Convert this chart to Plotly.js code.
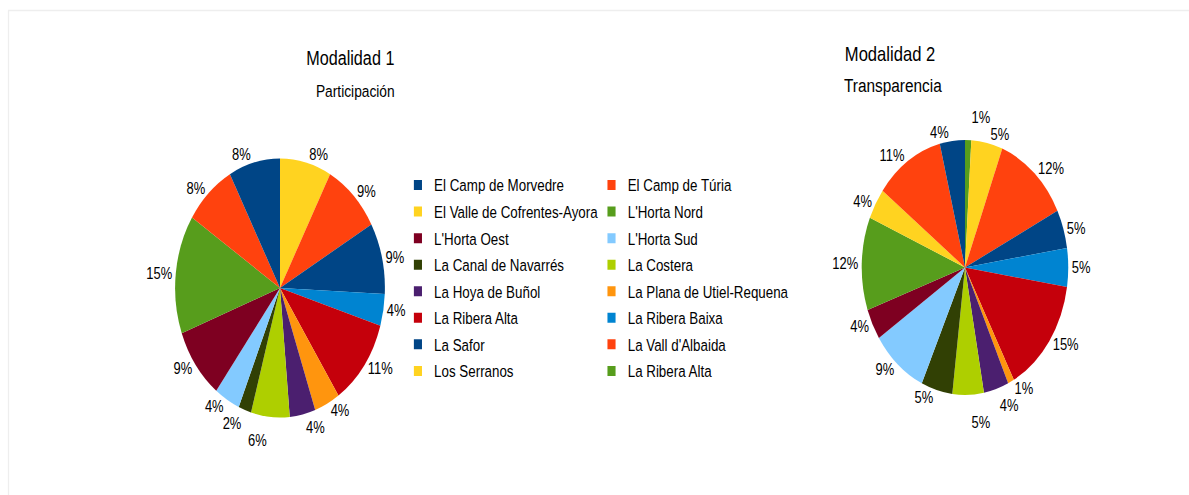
<!DOCTYPE html>
<html><head><meta charset="utf-8">
<script src="https://cdn.plot.ly/plotly-3.0.1.min.js"></script>
<style>
html,body{margin:0;padding:0;overflow:hidden;background:#fff;width:1189px;height:495px}
#wrap{width:1468px;height:495px;transform:scaleX(0.809946);transform-origin:0 0}
#wrap path.textline{display:none}
</style></head><body><div id="wrap"></div>
<script>
const categories = [
  "El Camp de Morvedre", "El Camp de Túria", "El Valle de Cofrentes-Ayora", "L'Horta Nord",
  "L'Horta Oest", "L'Horta Sud", "La Canal de Navarrés", "La Costera",
  "La Hoya de Buñol", "La Plana de Utiel-Requena", "La Ribera Alta", "La Ribera Baixa",
  "La Safor", "La Vall d'Albaida", "Los Serranos", "La Ribera Alta"
];
const colors = [
  "#004586", "#ff420e", "#ffd320", "#579d1c", "#7e0021", "#83caff", "#314004", "#aecf00",
  "#4b1f6f", "#ff950e", "#c5000b", "#0084d1", "#004586", "#ff420e", "#ffd320", "#579d1c"
];
// percentages (null = no slice)
const modalidad1 = [8, 8, null, 15, 9, 4, 2, 6, 4, 4, 11, 4, 9, 9, 8, null];
const modalidad2 = [4, 11, 4, 12, 4, 9, 5, 5, 4, 1, 15, 5, 5, 12, 5, 1];
const chartTitles = ["Modalidad 1", "Modalidad 2"];
const chartSubtitles = ["Participación", "Transparencia"];

// unique slice keys (duplicate category names allowed in the legend)
const seen = {};
const sliceLabels = categories.map(c => { seen[c] = (seen[c] || 0) + 1; return c + "\u200b".repeat(seen[c] - 1); });

const FONT = "Liberation Sans, Arial, sans-serif";
const W = 1468, H = 495;
const px = v => v / W, py = v => 1 - v / H;

// slices run counterclockwise from 12 o'clock in category order:
// drawn clockwise with the order reversed
function pieTrace(values, cx, cy, r) {
  return {
    type: "pie", labels: sliceLabels.slice().reverse(), values: values.slice().reverse(), sort: false,
    direction: "clockwise", rotation: 0,
    marker: {colors: colors.slice().reverse(), line: {width: 0}},
    textposition: "outside", texttemplate: "%{percent:.0%}",
    textfont: {family: FONT, size: 16, color: "#000"},
    showlegend: false, hoverinfo: "label+percent",
    domain: {x: [px(cx - r), px(cx + r)], y: [py(cy + r), py(cy - r)]}
  };
}

const traces = [pieTrace(modalidad1, 345.7, 288, 129.5), pieTrace(modalidad2, 1191.4, 267.5, 127.5)];

categories.forEach((c, i) => {
  traces.push({
    type: "scatter", mode: "markers", x: [null], y: [null], name: c,
    legend: (i % 2 === 0) ? "legend" : "legend2", legendgroup: "g" + i,
    marker: {symbol: "square", size: 10, color: colors[i], line: {width: 0}},
    showlegend: true, hoverinfo: "skip"
  });
});

const legendBase = {
  orientation: "v", yanchor: "top", xanchor: "left", traceorder: "grouped", tracegroupgap: 2.1,
  font: {family: FONT, size: 16.5, color: "#000"}, bgcolor: "rgba(0,0,0,0)", borderwidth: 0
};

const ann = (text, x, y, size) => ({text: text, x: px(x), y: py(y), xref: "paper", yref: "paper",
  xanchor: "center", yanchor: "middle", showarrow: false, font: {family: FONT, size: size, color: "#000"}});

const layout = {
  width: W, height: H, margin: {l: 0, r: 0, t: 0, b: 0},
  paper_bgcolor: "#fff", plot_bgcolor: "#fff",
  xaxis: {visible: false}, yaxis: {visible: false},
  legend: Object.assign({}, legendBase, {x: px(496), y: py(167.8)}),
  legend2: Object.assign({}, legendBase, {x: px(735), y: py(167.8)}),
  annotations: [
    ann(chartTitles[0], 432.1, 58.5, 20),
    ann(chartSubtitles[0], 438.7, 91.5, 17),
    ann(chartTitles[1], 1098.8, 53.5, 20.5),
    ann(chartSubtitles[1], 1102.9, 85, 19)
  ],
  shapes: [
    {type: "line", xref: "paper", yref: "paper", x0: px(9.9), x1: 1, y0: py(10.5), y1: py(10.5), line: {color: "#eeeeee", width: 1.3}},
    {type: "line", xref: "paper", yref: "paper", x0: px(10.5), x1: px(10.5), y0: py(10.5), y1: 0, line: {color: "#eeeeee", width: 1.6}}
  ]
};

Plotly.newPlot("wrap", traces, layout, {staticPlot: true, displayModeBar: false});
</script></body></html>
